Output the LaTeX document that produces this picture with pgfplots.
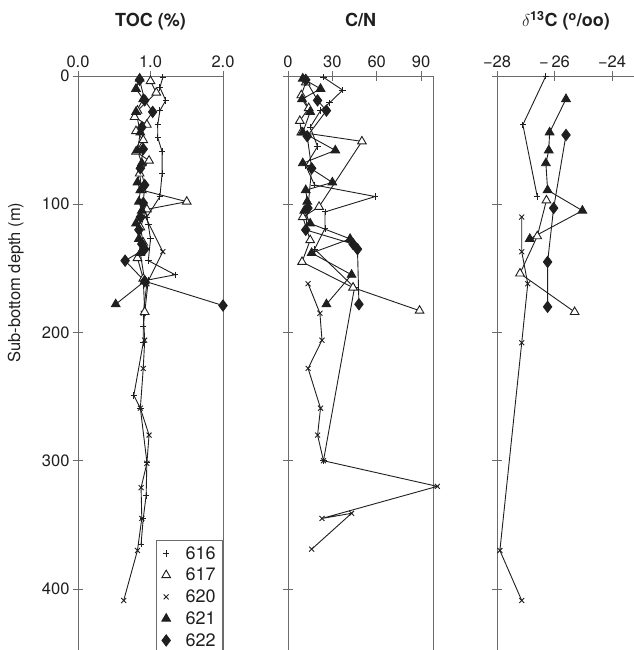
\documentclass[border=0pt]{standalone}
\usepackage{pgfplots}
\pgfplotsset{compat=1.18}
\usepackage{fontspec}
\setmainfont{TeX Gyre Heros}

\definecolor{axisgray}{gray}{0.42}
\definecolor{inkgray}{gray}{0.12}

\pgfplotsset{
  depthpanel/.style={
    scale only axis, height=574pt,
    y dir=reverse, ymin=0, ymax=447.6,
    ytick={0,100,200,300,400},
    ytick pos=left, xtick pos=upper, xticklabel pos=upper,
    tick align=center, major tick length=10pt,
    axis line style={axisgray, line width=0.9pt},
    tick style={axisgray, line width=0.9pt},
    ticklabel style={font=\fontsize{16.5}{18}\selectfont, text=inkgray},
    /pgf/number format/assume math mode=true,
    title style={at={(0.5,1)}, anchor=base, yshift=43pt,
      font=\bfseries\fontsize{18}{20}\selectfont, text=inkgray},
    clip=false, anchor=north west,
    every axis plot/.append style={inkgray, line width=0.9pt},
  },
  s616/.style={mark=+, mark size=3.2pt},
  s617/.style={mark=triangle*, mark size=5pt, mark options={fill=white}},
  s620/.style={mark=x, mark size=3.5pt},
  s621/.style={mark=triangle*, mark size=5pt, mark options={fill=inkgray}},
  s622/.style={mark=diamond*, mark size=5.6pt, mark options={fill=inkgray}},
}

\begin{document}
\begin{tikzpicture}
\useasboundingbox (0pt,0pt) rectangle (633pt,650pt);

% ---------------- TOC ----------------
\begin{axis}[depthpanel, at={(78pt,574pt)}, width=145pt,
  xmin=0, xmax=2, xtick={0,1,2}, xticklabels={0.0,1.0,2.0},
  yticklabels={0,100,200,300,400},
  title={TOC (\%)},
  ylabel={Sub-bottom depth (m)},
  ylabel style={at={(axis description cs:-0.43,0.64)}, anchor=center,
    font=\fontsize{16.5}{18}\selectfont, text=inkgray},
  legend style={at={(axis description cs:1,0.192)}, anchor=north east,
    draw=axisgray, line width=0.9pt, font=\fontsize{18}{20}\selectfont,
    text=inkgray, row sep=3.5pt, column sep=13pt, inner xsep=5pt, inner ysep=4pt},
  legend cell align=left,
]
\addplot[s616, forget plot] coordinates {(1.17,1) (1.13,9) (1.21,19) (1.13,27) (1.10,38) (1.10,48)
  (1.16,59) (1.16,76) (1.13,94) (0.95,110) (0.97,116) (1.00,127) (0.97,144)
  (1.34,155) (0.97,159) (0.90,195) (0.90,208) (0.77,249) (0.86,259) (0.95,301)
  (0.94,327) (0.90,345) (0.87,365)};
\addplot[s620, forget plot] coordinates {(0.93,110) (1.17,137) (0.95,162) (0.90,185) (0.92,206)
  (0.90,228) (0.86,259) (0.98,280) (0.95,302) (0.87,321) (0.88,345) (0.82,370)
  (0.63,409)};
\addplot[s617, forget plot] coordinates {(1.00,4) (1.08,13) (0.82,27) (0.78,32) (0.95,38) (0.80,43)
  (0.90,50) (0.80,59) (0.98,66) (0.85,76) (0.88,89) (1.50,98) (0.95,104) (0.86,118)
  (0.90,130) (0.82,142) (0.90,158) (0.92,184)};
\addplot[s621, forget plot] coordinates {(0.85,2) (0.80,10) (0.90,18) (0.80,28) (0.86,44) (0.82,58)
  (0.88,68) (0.82,83) (0.86,89) (0.84,98) (0.88,105) (0.80,115) (0.84,127)
  (0.86,138) (0.92,160) (0.52,178)};
\addplot[s622, forget plot] coordinates {(0.85,3) (0.92,19) (1.03,28) (0.88,40) (0.90,57) (0.86,72)
  (0.92,85) (0.90,99) (0.86,110) (0.84,120) (0.88,131) (0.92,135) (0.65,144)
  (0.92,160) (2.00,179)};
\addlegendimage{only marks, inkgray, line width=0.9pt, s616}
\addlegendentry{616}
\addlegendimage{only marks, inkgray, line width=0.9pt, s617}
\addlegendentry{617}
\addlegendimage{only marks, inkgray, line width=0.9pt, s620}
\addlegendentry{620}
\addlegendimage{only marks, inkgray, line width=0.9pt, s621}
\addlegendentry{621}
\addlegendimage{only marks, inkgray, line width=0.9pt, s622}
\addlegendentry{622}
\end{axis}

% ---------------- C/N ----------------
\begin{axis}[depthpanel, at={(288pt,574pt)}, width=145pt,
  xmin=0, xmax=98.1, xtick={0,30,60,90}, xticklabels={0,30,60,90},
  yticklabels={},
  title={C/N},
]
\addplot[s616] coordinates {(24,1) (37,11) (28,21) (22,27) (15,40) (20,55) (12,70)
  (18,85) (59,94) (25,106) (25,119) (18,135) (45,165) (24,300)};
\addplot[s617] coordinates {(12,5) (9,15) (14,25) (8,35) (9,44) (50,51) (21,102)
  (10,110) (15,128) (9.5,145) (44,165) (89,183)};
\addplot[s620] coordinates {(13.6,162) (21.6,185) (23,206) (13.6,228) (22,259)
  (20,280) (24,300) (101,320) (23,345) (43,341) (16,369)};
\addplot[s621] coordinates {(10,2) (22,10) (9.5,18) (15,28) (10,44) (32,58) (10,68)
  (30,83) (12,89) (13,98) (11,105) (15,115) (42,127) (16,138) (43,155) (26,178)};
\addplot[s622] coordinates {(12,3) (20,19) (26,27) (13,47) (16,72) (13.5,103)
  (12,120) (44,131) (47,135) (48,178)};
\end{axis}

% ---------------- delta 13C ----------------
\begin{axis}[depthpanel, at={(497pt,574pt)}, width=138pt,
  xmin=-28, xmax=-23.2, xtick={-28,-26,-24},
  xticklabels={{\char"2212}28,{\char"2212}\,26,{\char"2212}24},
  yticklabels={},
  title={$\delta$\textsuperscript{13}C (\textsuperscript{o}/oo)},
]
\addplot[s616] coordinates {(-26.3,0) (-27.1,38) (-26.6,94)};
\addplot[s617] coordinates {(-26.28,97) (-26.6,125) (-27.2,154) (-25.3,184)};
\addplot[s620] coordinates {(-27.14,110) (-27.14,137) (-26.93,162) (-27.14,208)
  (-27.9,370) (-27.14,409)};
\addplot[s621] coordinates {(-25.6,18) (-26.17,44) (-26.2,58) (-26.3,68)
  (-26.24,89) (-25.03,105) (-26.86,127)};
\addplot[s622] coordinates {(-25.6,46) (-26.03,103) (-26.24,145) (-26.24,180)};
\end{axis}
\end{tikzpicture}
\end{document}
